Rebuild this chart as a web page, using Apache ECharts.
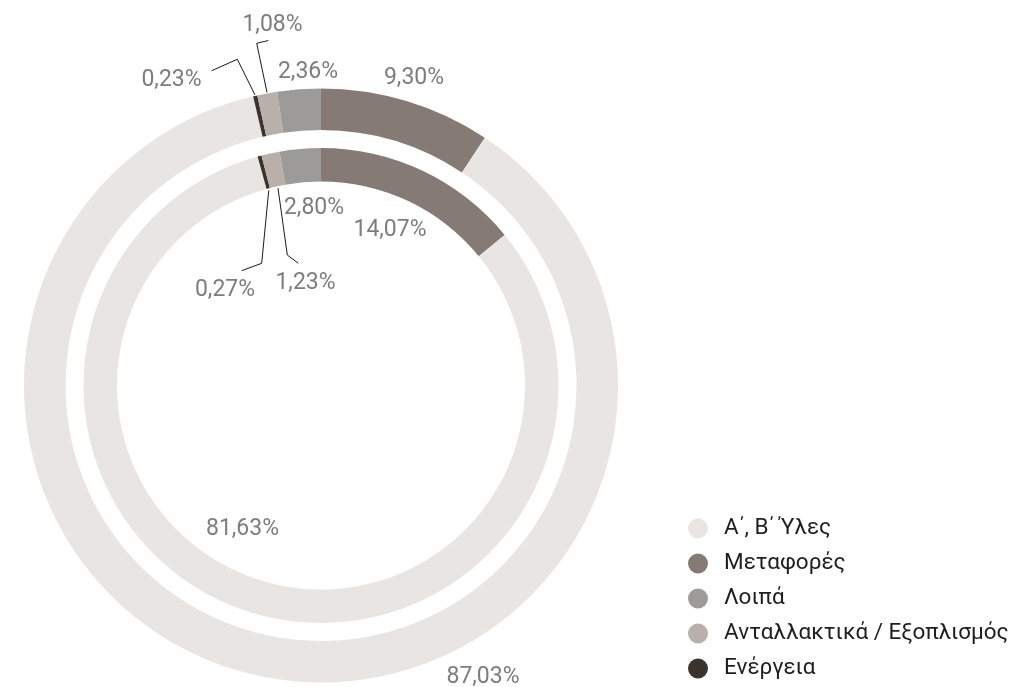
<!DOCTYPE html>
<html>
<head>
<meta charset="utf-8">
<script src="https://cdn.jsdelivr.net/npm/echarts@6/dist/echarts.min.js"></script>
<style>
  html, body { margin: 0; padding: 0; background: #ffffff; }
  #chart { width: 1030px; height: 687px; }
</style>
</head>
<body>
<div id="chart"></div>
<script>
// Categories in ring order, clockwise from 12 o'clock
const categories = ['Μεταφορές', 'Α΄, Β΄ Ύλες', 'Ενέργεια', 'Ανταλλακτικά / Εξοπλισμός', 'Λοιπά'];
// Shares (%) for the outer and inner ring
const outerValues = [9.30, 87.03, 0.23, 1.08, 2.36];
const innerValues = [14.07, 81.63, 0.27, 1.23, 2.80];
// Legend order
const legendOrder = ['Α΄, Β΄ Ύλες', 'Μεταφορές', 'Λοιπά', 'Ανταλλακτικά / Εξοπλισμός', 'Ενέργεια'];

const palette = {
  'Α΄, Β΄ Ύλες': '#e8e5e2',
  'Μεταφορές': '#857b74',
  'Λοιπά': '#9c9b99',
  'Ανταλλακτικά / Εξοπλισμός': '#b8b0a9',
  'Ενέργεια': '#3b332e'
};

const CX = 321, CY = 385.5;
const OUTER_R = [255.5, 297];
const INNER_R = [204, 237.5];

// Label placement, as offsets from the pie centre; optional leader line
// with an elbow and an end point (also offsets from the centre).
const outerLabels = {
  'Μεταφορές': { dx: 93, dy: -307 },
  'Λοιπά': { dx: -13, dy: -313 },
  'Ανταλλακτικά / Εξοπλισμός': { dx: -48.5, dy: -360, line: [[-64.3, -342.2], [-52.7, -345]] },
  'Ενέργεια': { dx: -149.5, dy: -305, line: [[-83.7, -326.2], [-109.3, -314.8]] },
  'Α΄, Β΄ Ύλες': { dx: 162, dy: 292 }
};
const innerLabels = {
  'Μεταφορές': { dx: 69, dy: -155 },
  'Λοιπά': { dx: -7, dy: -177 },
  'Ανταλλακτικά / Εξοπλισμός': { dx: -15.5, dy: -102, line: [[-33.7, -130.5], [-22.7, -122.2]] },
  'Ενέργεια': { dx: -96, dy: -95, line: [[-59.3, -122.2], [-79.3, -114.8]] },
  'Α΄, Β΄ Ύλες': { dx: -78.5, dy: 144 }
};

function midAngles(values) {
  const total = values.reduce((a, b) => a + b, 0);
  let acc = 0;
  return values.map(v => {
    const mid = (acc + v / 2) / total * 2 * Math.PI;
    acc += v;
    return mid;
  });
}

function fmt(v) {
  return v.toFixed(2).replace('.', ',') + '%';
}

function buildSeries(name, values, radius, labels, edgeR) {
  const mids = midAngles(values);
  return {
    name: name,
    type: 'pie',
    center: [CX, CY],
    radius: radius,
    startAngle: 90,
    clockwise: true,
    avoidLabelOverlap: false,
    animation: false,
    emphasis: { disabled: true },
    label: {
      show: true,
      position: 'outside',
      formatter: p => fmt(p.value),
      fontFamily: 'Roboto',
      fontSize: 23,
      color: '#7d7d7d'
    },
    labelLine: {
      show: true,
      lineStyle: { color: '#1a1a1a', width: 1 }
    },
    data: categories.map((c, i) => ({
      name: c,
      value: values[i],
      itemStyle: { color: palette[c] },
      labelLine: { show: !!labels[c].line }
    })),
    labelLayout: function (params) {
      const c = categories[params.dataIndex];
      const spec = labels[c];
      const out = {
        x: CX + spec.dx,
        y: CY + spec.dy,
        align: 'center',
        verticalAlign: 'middle'
      };
      if (spec.line) {
        const a = mids[params.dataIndex];
        out.labelLinePoints = [
          [CX + edgeR * Math.sin(a), CY - edgeR * Math.cos(a)],
          [CX + spec.line[0][0], CY + spec.line[0][1]],
          [CX + spec.line[1][0], CY + spec.line[1][1]]
        ];
      }
      return out;
    }
  };
}

const chart = echarts.init(document.getElementById('chart'), null, { renderer: 'canvas' });
chart.setOption({
  backgroundColor: '#ffffff',
  animation: false,
  legend: {
    orient: 'vertical',
    left: 683,
    top: 512,
    icon: 'circle',
    itemWidth: 20,
    itemHeight: 20,
    itemGap: 12,
    data: legendOrder,
    selectedMode: false,
    textStyle: {
      fontFamily: 'Roboto',
      fontSize: 22.5,
      lineHeight: 22,
      color: '#1f1f1f',
      padding: [0, 0, 0, 11]
    }
  },
  series: [
    buildSeries('outer', outerValues, OUTER_R, outerLabels, OUTER_R[1] + 1),
    buildSeries('inner', innerValues, INNER_R, innerLabels, INNER_R[0] - 2)
  ]
});
</script>
</body>
</html>
